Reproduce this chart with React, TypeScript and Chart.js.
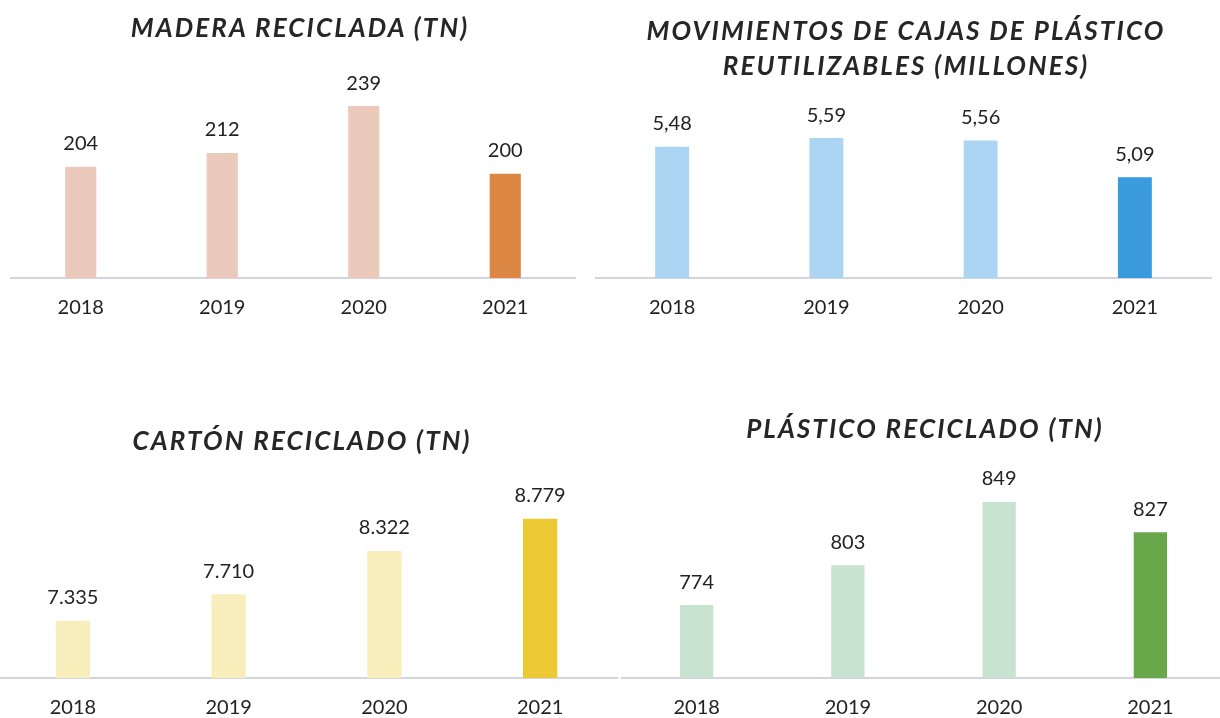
import React, { useEffect, useRef } from 'react';
import { Chart, registerables } from 'chart.js';

Chart.register(...registerables);

const FONT = 'Lato, "Open Sans", sans-serif';

// ---- data ----
const years = ['2018', '2019', '2020', '2021'];
const madera = [204, 212, 239, 200];
const cajas = [5.48, 5.59, 5.56, 5.09];
const carton = [7335, 7710, 8322, 8779];
const plastico = [774, 803, 849, 827];

const maderaColors = ['#ebc9bb', '#ebc9bb', '#ebc9bb', '#dc8743'];
const cajasColors = ['#abd5f3', '#abd5f3', '#abd5f3', '#3a9bdc'];
const cartonColors = ['#f8eebb', '#f8eebb', '#f8eebb', '#ecc832'];
const plasticoColors = ['#c8e4d0', '#c8e4d0', '#c8e4d0', '#68a84a'];

function formatEs(v: number, decimals: number): string {
  const parts = v.toFixed(decimals).split('.');
  const grouped = parts[0].replace(/\B(?=(\d{3})+(?!\d))/g, '.');
  return parts[1] ? grouped + ',' + parts[1] : grouped;
}

const valueLabels = {
  id: 'valueLabels',
  afterDatasetsDraw(chart: any, _args: any, opts: any) {
    const ctx = chart.ctx;
    ctx.save();
    ctx.font = `20px ${FONT}`;
    ctx.fillStyle = '#222222';
    ctx.textAlign = 'center';
    ctx.textBaseline = 'middle';
    chart.data.datasets.forEach((ds: any, di: number) => {
      const meta = chart.getDatasetMeta(di);
      meta.data.forEach((el: any, i: number) => {
        ctx.fillText(formatEs(ds.data[i], opts.decimals || 0), el.x, el.y - 23);
      });
    });
    ctx.restore();
  },
};

const PAD_TOP = 70;
const AXIS_H = 45;

type BoxProps = {
  left: number;
  plotTop: number;
  width: number;
  plotHeight: number;
  values: number[];
  colors: string[];
  min: number;
  max: number;
  decimals: number;
};

function BarBox(p: BoxProps) {
  const ref = useRef<HTMLCanvasElement | null>(null);
  const height = PAD_TOP + p.plotHeight + AXIS_H;
  useEffect(() => {
    if (!ref.current) return;
    const chart = new Chart(ref.current, {
      type: 'bar',
      data: {
        labels: years,
        datasets: [
          {
            data: p.values,
            backgroundColor: p.colors,
            barPercentage: 0.22,
            categoryPercentage: 1,
          },
        ],
      },
      options: {
        responsive: false,
        animation: false,
        layout: { padding: { top: PAD_TOP, left: 0, right: 0, bottom: 0 } },
        plugins: {
          legend: { display: false },
          tooltip: { enabled: false },
          title: { display: false },
          valueLabels: { decimals: p.decimals },
        } as any,
        scales: {
          x: {
            grid: { display: false, drawTicks: false },
            border: { display: true, color: '#d4d4e0', width: 2 },
            ticks: { color: '#222222', font: { family: FONT, size: 20 }, padding: 18 },
            afterFit: (scale: any) => {
              scale.height = AXIS_H;
            },
          },
          y: {
            display: false,
            min: p.min,
            max: p.max,
          },
        },
      },
      plugins: [valueLabels],
    });
    return () => chart.destroy();
  }, []);
  return (
    <canvas
      ref={ref}
      width={p.width}
      height={height}
      style={{
        position: 'absolute',
        left: p.left,
        top: p.plotTop - PAD_TOP,
        width: p.width,
        height: height,
      }}
    />
  );
}

const titleStyle: React.CSSProperties = {
  position: 'absolute',
  fontFamily: FONT,
  fontWeight: 700,
  fontStyle: 'italic',
  fontSize: 26,
  lineHeight: '30px',
  color: '#262626',
  whiteSpace: 'nowrap',
  textAlign: 'center',
  transform: 'translateX(-50%)',
  letterSpacing: '2.1px',
  zIndex: 2,
};

export default function App() {
  return (
    <div
      style={{
        position: 'fixed',
        left: 0,
        top: 0,
        width: 1220,
        height: 718,
        overflow: 'hidden',
        background: '#ffffff',
      }}
    >
      <BarBox left={10} plotTop={87} width={566} plotHeight={191} values={madera} colors={maderaColors} min={140} max={250} decimals={0} />
      <BarBox left={595} plotTop={106} width={617} plotHeight={172} values={cajas} colors={cajasColors} min={3.8} max={6.0} decimals={2} />
      <BarBox left={-5} plotTop={503} width={623} plotHeight={175} values={carton} colors={cartonColors} min={6525} max={9000} decimals={0} />
      <BarBox left={621} plotTop={473} width={605} plotHeight={205} values={plastico} colors={plasticoColors} min={721} max={870} decimals={0} />

      <div style={{ ...titleStyle, left: 300, top: 12 }}>MADERA RECICLADA (TN)</div>
      <div style={{ ...titleStyle, left: 906, top: 13, lineHeight: '35px' }}>
        MOVIMIENTOS DE CAJAS DE PLÁSTICO
        <br />
        REUTILIZABLES (MILLONES)
      </div>
      <div style={{ ...titleStyle, left: 302, top: 425 }}>CARTÓN RECICLADO (TN)</div>
      <div style={{ ...titleStyle, left: 925, top: 413 }}>PLÁSTICO RECICLADO (TN)</div>
    </div>
  );
}
